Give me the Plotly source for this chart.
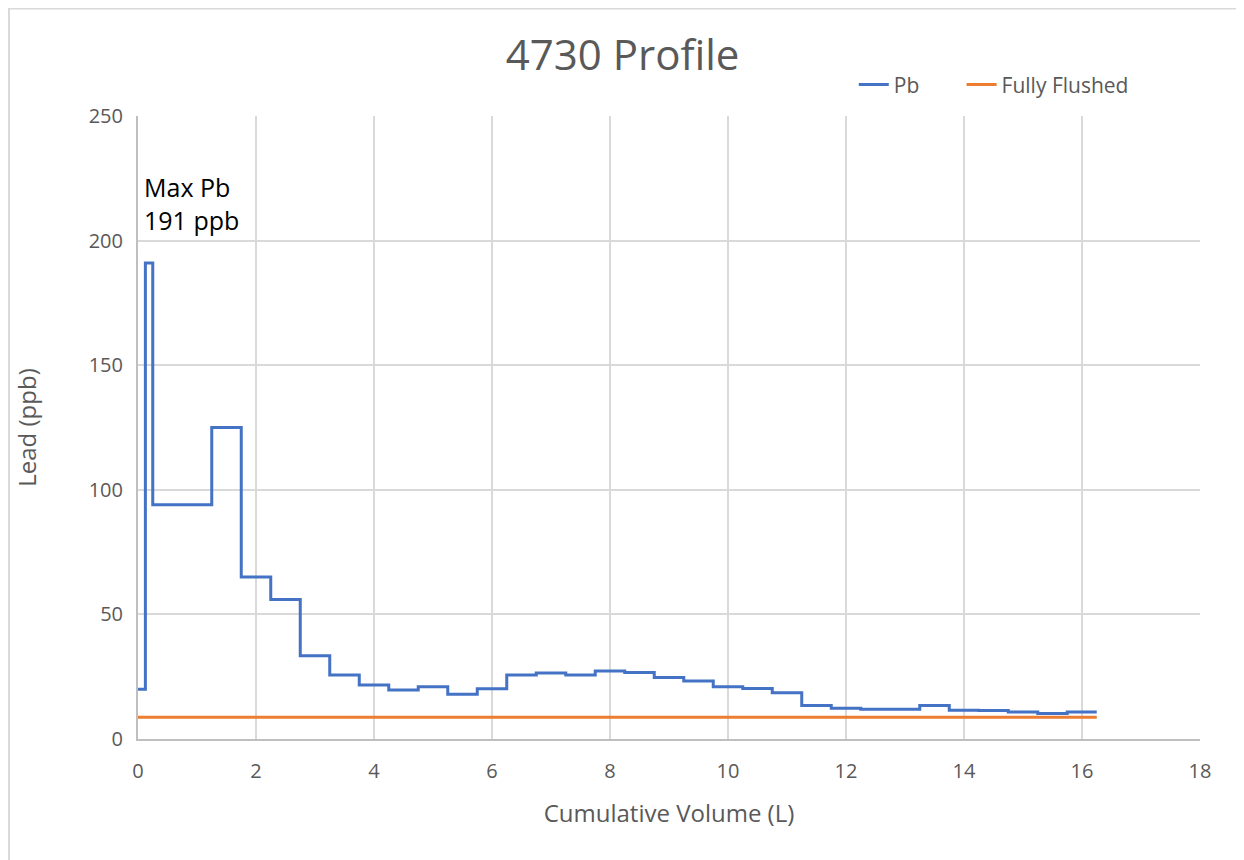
import plotly.graph_objects as go

# step edges (L) and lead values (ppb) for each interval
volume_edges = [0, 0.125, 0.25, 1.25, 1.75, 2.25, 2.75, 3.25, 3.75, 4.25, 4.75,
                5.25, 5.75, 6.25, 6.75, 7.25, 7.75, 8.25, 8.75, 9.25, 9.75,
                10.25, 10.75, 11.25, 11.75, 12.25, 12.75, 13.25, 13.75, 14.25,
                14.75, 15.25, 15.75, 16.25]
lead_ppb = [20, 191, 94, 125, 65, 56, 33.4, 25.7, 21.7, 19.7, 21, 18, 20.2,
            25.7, 26.5, 25.7, 27.3, 26.7, 24.7, 23.3, 21, 20.3, 18.6, 13.4,
            12.3, 11.9, 11.9, 13.4, 11.5, 11.4, 10.8, 10.2, 10.8]
flushed_ppb = 8.7

x_ticks = list(range(0, 19, 2))
y_ticks = [0, 50, 100, 150, 200, 250]

FONT = "Open Sans"
GREY = "#595959"

fig = go.Figure()

# Pb step profile
fig.add_trace(go.Scatter(
    x=volume_edges,
    y=lead_ppb + [lead_ppb[-1]],
    mode="lines",
    line=dict(color="#4472c4", width=3, shape="hv"),
    name="Pb",
    legend="legend",
))

# fully flushed level
fig.add_trace(go.Scatter(
    x=[volume_edges[0], volume_edges[-1]],
    y=[flushed_ppb, flushed_ppb],
    mode="lines",
    line=dict(color="#ed7d31", width=3),
    name="Fully Flushed",
    legend="legend2",
))

fig.add_annotation(
    x=0.06, y=215, xref="x", yref="y",
    text="Max Pb<br>191 ppb", showarrow=False,
    xanchor="left", yanchor="middle", align="left",
    font=dict(family=FONT, size=25, color="#000000"),
)

# outer chart border
fig.add_shape(type="rect", xref="paper", yref="paper",
              x0=-0.1215, x1=1.0405, y0=-0.25, y1=1.1725,
              line=dict(color="#d9d9d9", width=2))

legend_style = dict(orientation="h", xanchor="left", y=1.05, yanchor="middle",
                    font=dict(family=FONT, size=21, color=GREY), bgcolor="rgba(0,0,0,0)")

fig.update_layout(
    width=1244,
    height=860,
    autosize=False,
    margin=dict(l=130, r=52, t=108, b=129),
    paper_bgcolor="white",
    plot_bgcolor="white",
    font=dict(family=FONT, color=GREY),
    title=dict(text="4730 Profile", x=0.494, xanchor="center", y=0.945, yanchor="middle",
               font=dict(family=FONT, size=42, color=GREY)),
    showlegend=True,
    legend=dict(x=0.674, **legend_style),
    legend2=dict(x=0.7755, **legend_style),
)

fig.update_xaxes(
    range=[0, 18], tickvals=x_ticks, showgrid=True, gridcolor="#d9d9d9", gridwidth=2,
    showline=True, linecolor="#bfbfbf", linewidth=2, zeroline=False,
    tickfont=dict(family=FONT, size=20, color=GREY), ticklabelstandoff=13,
    title=dict(text="Cumulative Volume (L)", font=dict(family=FONT, size=24, color=GREY), standoff=22),
)
fig.update_yaxes(
    range=[0, 250], tickvals=y_ticks, showgrid=True, gridcolor="#d9d9d9", gridwidth=2,
    showline=True, linecolor="#bfbfbf", linewidth=2, zeroline=False,
    tickfont=dict(family=FONT, size=20, color=GREY), ticklabelstandoff=9,
    title=dict(text="Lead (ppb)", font=dict(family=FONT, size=24, color=GREY), standoff=45),
)

fig.write_html("out.html")
